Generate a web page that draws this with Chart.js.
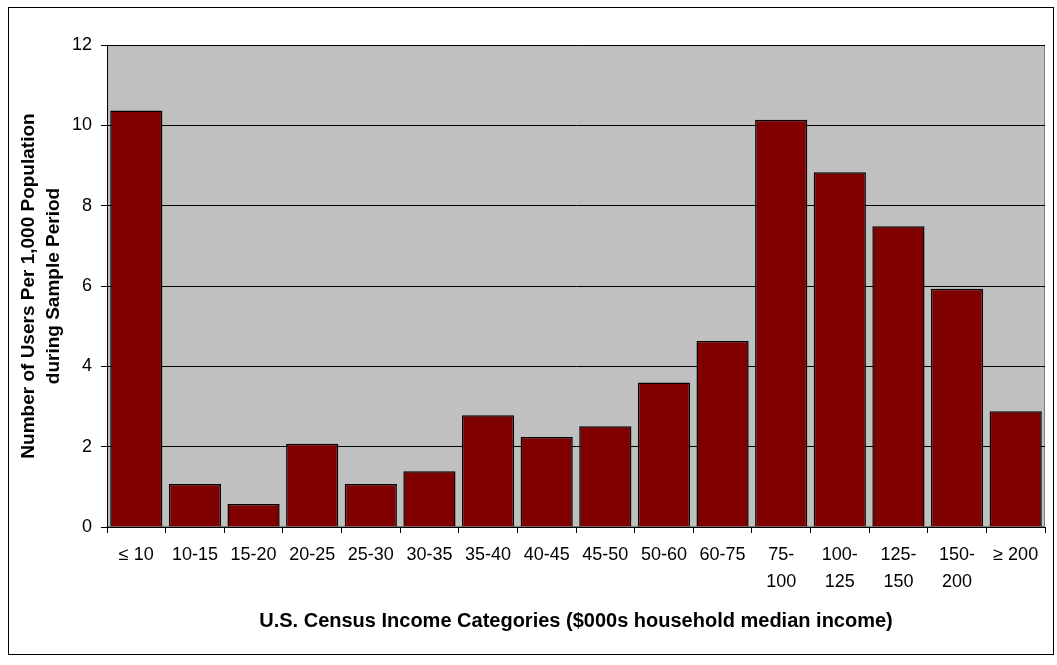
<!DOCTYPE html>
<html>
<head>
<meta charset="utf-8">
<script src="https://cdn.jsdelivr.net/npm/chart.js@4"></script>
<style>
  body { margin: 0; background: #fff; }
  #wrap { position: relative; width: 1057px; height: 665px; }
  #frame { position: absolute; left: 8px; top: 7px; width: 1046px; height: 648px; border: 1px solid #000; box-sizing: border-box; pointer-events: none; }
</style>
</head>
<body>
<div id="wrap">
  <canvas id="incomeChart" width="1057" height="665"></canvas>
  <div id="frame"></div>
</div>
<script>
// income categories ($000s) and users per 1,000 population
let categories = ["≤ 10", "10-15", "15-20", "20-25", "25-30", "30-35", "35-40", "40-45",
    "45-50", "50-60", "60-75", ["75-", "100"], ["100-", "125"], ["125-", "150"], ["150-", "200"], "≥ 200"]
let usersPer1000 = [10.37, 1.07, 0.57, 2.07, 1.07, 1.39, 2.78, 2.24,
    2.51, 3.6, 4.63, 10.14, 8.83, 7.49, 5.93, 2.88]
let yTicks = [0, 2, 4, 6, 8, 10, 12]

// grey plot background with a grey frame (axes are drawn black on top)
let plotBg = {
    id: 'plotBg',
    beforeDraw: function (chart) {
        let ctx = chart.ctx
        let a = chart.chartArea
        ctx.save()
        ctx.fillStyle = '#c0c0c0'
        ctx.fillRect(a.left, a.top, a.right - a.left, a.bottom - a.top)
        ctx.strokeStyle = '#808080'
        ctx.lineWidth = 1
        ctx.strokeRect(a.left + 0.5, a.top + 0.5, a.right - a.left - 1, a.bottom - a.top - 1)
        ctx.restore()
    }
}

Chart.defaults.font.family = "'Liberation Sans', Arial, sans-serif"
Chart.defaults.color = '#000'

let canvs = document.getElementById('incomeChart').getContext('2d')
let incomeChart = new Chart(canvs, {
    type: 'bar',
    data: {
        labels: categories,
        datasets: [{
            label: 'Users per 1,000',
            data: usersPer1000,
            backgroundColor: '#800000',
            borderColor: '#000',
            borderWidth: 1.5,
            barPercentage: 0.89,
            categoryPercentage: 1
        }]
    },
    options: {
        responsive: false,
        animation: false,
        layout: { padding: { top: 45, right: 12, left: 0, bottom: 0 } },
        plugins: {
            legend: { display: false },
            tooltip: { enabled: false }
        },
        scales: {
            x: {
                offset: true,
                grid: { offset: true, drawOnChartArea: false, drawTicks: true, tickLength: 6, color: '#000' },
                border: { color: '#000', width: 1 },
                ticks: { font: { size: 18, lineHeight: 1.5 }, padding: 9, maxRotation: 0, autoSkip: false },
                title: {
                    display: true,
                    text: 'U.S. Census Income Categories ($000s household median income)',
                    font: { size: 20, weight: 'bold', lineHeight: 1.2 },
                    padding: { top: 0, bottom: 32 }
                },
                afterFit: function (scale) { scale.height = 138 }
            },
            y: {
                min: 0,
                max: 12,
                afterBuildTicks: function (scale) {
                    scale.ticks = yTicks.map(function (v) { return { value: v } })
                },
                grid: { color: '#000', lineWidth: 1, drawTicks: true, tickLength: 6 },
                border: { color: '#000', width: 1 },
                ticks: { font: { size: 18 }, padding: 9 },
                title: {
                    display: true,
                    text: ['Number of Users Per 1,000 Population', 'during Sample Period'],
                    font: { size: 19, weight: 'bold', lineHeight: 1.32 },
                    padding: { top: 16, bottom: 0 }
                },
                afterFit: function (scale) { scale.width = 107 }
            }
        }
    },
    plugins: [plotBg]
})
</script>
</body>
</html>
